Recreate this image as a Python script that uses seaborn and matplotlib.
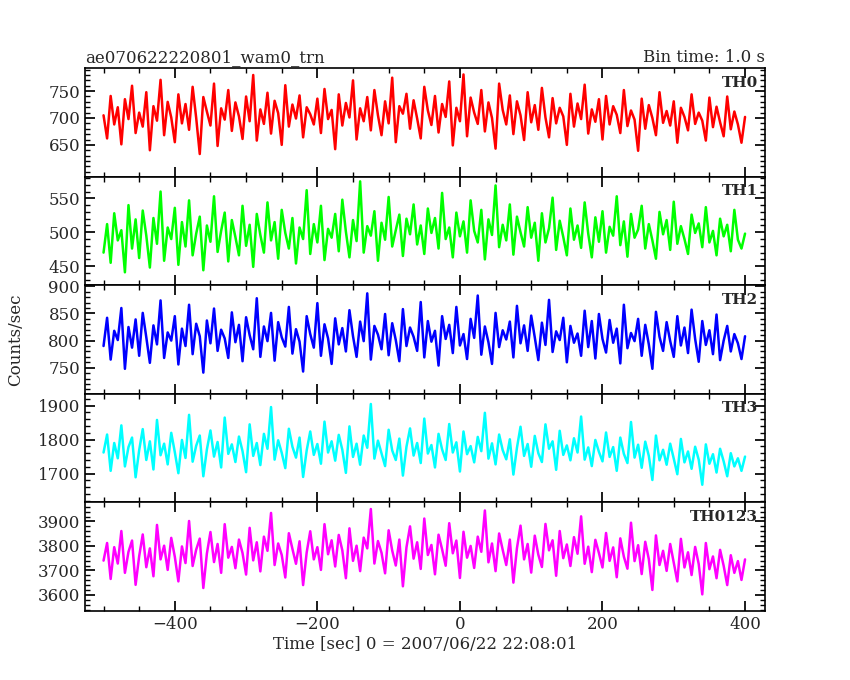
import numpy as np
import matplotlib
matplotlib.use("Agg")
import matplotlib.pyplot as plt
import seaborn as sns
from matplotlib.ticker import AutoMinorLocator

sns.set_theme(style="white")
plt.rcParams['font.family'] = ['DejaVu Serif']

time = list(range(-500, 401, 5))

th0 = [705,662,741,688,720,651,735,698,760,672,710,684,748,640,722,695,771,668,730,701,
       655,744,690,726,678,758,700,633,739,712,686,764,648,718,697,752,676,729,703,661,
       740,694,780,658,716,689,747,671,732,709,650,761,684,725,699,742,664,720,707,688,
       736,672,754,698,715,642,744,686,728,701,770,660,718,694,739,677,752,705,668,731,
       690,775,655,722,708,745,680,733,699,662,758,714,687,741,673,726,702,768,649,719,
       694,781,666,738,710,689,752,675,729,700,643,764,715,688,742,670,731,705,659,748,
       692,724,678,756,701,664,737,690,719,703,650,745,684,727,698,762,671,716,693,735,
       660,741,688,722,706,672,752,685,714,697,639,736,680,724,700,668,748,691,713,686,
       731,654,719,702,677,744,689,710,695,658,738,683,721,692,666,740,679,712,688,654,702]
th1 = [470,512,455,528,488,503,441,540,476,519,462,532,495,448,521,483,560,458,507,490,
       536,452,515,479,547,466,498,523,444,510,486,553,471,502,529,457,518,493,466,539,
       480,511,449,527,496,470,544,488,515,461,533,499,476,521,454,507,490,562,468,512,
       485,539,459,505,492,527,472,548,501,463,518,487,575,470,509,495,531,458,514,489,
       552,479,503,526,465,520,497,541,482,510,468,535,499,521,476,558,490,507,463,529,
       494,516,470,547,502,485,533,460,519,496,569,478,511,488,541,467,523,500,479,537,
       492,514,458,528,485,506,551,474,517,493,466,535,489,510,477,544,498,463,522,486,
       531,470,508,495,553,481,516,464,527,492,504,539,476,512,488,461,530,497,518,474,
       545,483,509,490,468,526,499,513,478,537,485,502,466,520,494,511,472,533,489,476,498]
th2 = [790,842,765,818,801,860,748,825,787,839,772,851,806,759,828,793,874,768,815,800,
       845,756,822,790,866,775,831,808,741,837,795,859,781,820,804,768,852,797,829,762,
       843,810,784,878,770,826,799,851,763,834,806,789,862,776,821,798,743,845,812,787,
       869,772,830,804,757,841,793,823,780,856,808,770,835,799,887,765,827,811,784,849,
       773,832,801,762,858,790,824,807,781,871,769,836,798,818,754,845,803,829,777,862,
       791,812,766,840,805,883,774,826,797,757,851,788,819,802,835,769,864,795,828,781,
       846,806,764,833,792,875,779,817,801,842,760,827,796,813,772,855,788,836,767,849,
       803,778,838,796,822,758,866,786,814,799,840,772,829,793,748,853,807,781,834,799,
       770,845,791,824,777,857,803,761,836,792,819,775,848,764,800,827,780,812,795,766,808]
th3 = [1762,1815,1708,1790,1745,1842,1721,1778,1806,1689,1769,1831,1740,1795,1712,1858,1754,1788,1727,1820,
       1763,1701,1799,1746,1873,1735,1782,1812,1692,1771,1827,1750,1793,1718,1865,1758,1786,1734,1809,1766,
       1704,1845,1752,1790,1725,1817,1773,1896,1741,1798,1761,1716,1832,1779,1747,1806,1690,1768,1824,1755,
       1787,1729,1853,1762,1795,1738,1814,1770,1702,1839,1749,1788,1726,1812,1776,1905,1744,1797,1760,1722,
       1829,1768,1740,1803,1694,1779,1833,1753,1790,1731,1862,1759,1784,1718,1817,1771,1740,1846,1762,1792,
       1706,1824,1757,1781,1733,1808,1766,1879,1744,1789,1727,1815,1769,1742,1801,1697,1776,1838,1752,1787,
       1720,1811,1760,1734,1845,1773,1795,1711,1826,1755,1783,1739,1804,1762,1868,1741,1777,1722,1799,1764,
       1736,1821,1749,1778,1708,1806,1758,1731,1852,1747,1785,1717,1794,1752,1681,1812,1739,1770,1726,1788,
       1744,1698,1802,1733,1765,1714,1779,1741,1667,1786,1729,1757,1703,1773,1736,1692,1760,1721,1745,1708,1750]
th0123 = [3740,3812,3665,3795,3728,3861,3690,3776,3822,3641,3758,3847,3713,3790,3676,3886,3745,3801,3702,3833,
          3756,3655,3798,3730,3902,3718,3785,3830,3628,3769,3857,3734,3808,3690,3889,3752,3796,3709,3826,3771,
          3683,3874,3741,3815,3696,3838,3780,3935,3722,3810,3763,3671,3852,3788,3727,3819,3640,3773,3860,3745,
          3795,3702,3889,3766,3823,3716,3845,3782,3668,3872,3739,3801,3697,3834,3790,3951,3728,3820,3772,3688,
          3864,3781,3720,3826,3635,3794,3880,3748,3815,3706,3912,3763,3804,3684,3846,3786,3719,3893,3770,3822,
          3669,3858,3752,3800,3710,3838,3776,3945,3733,3810,3697,3851,3784,3722,3826,3650,3791,3883,3745,3808,
          3691,3842,3764,3714,3890,3782,3823,3678,3861,3750,3806,3718,3836,3768,3921,3727,3797,3693,3825,3771,
          3712,3853,3739,3794,3672,3831,3756,3707,3895,3738,3803,3685,3817,3746,3620,3843,3722,3780,3698,3808,
          3731,3655,3829,3712,3774,3681,3796,3726,3602,3812,3705,3757,3668,3784,3719,3640,3762,3690,3738,3661,3745]

series = [("TH0", th0, "#ff0000", (591, 793), [650, 700, 750]),
          ("TH1", th1, "#00ff00", (422, 582), [450, 500, 550]),
          ("TH2", th2, "#0000ff", (702, 902), [750, 800, 850, 900]),
          ("TH3", th3, "#00ffff", (1615, 1935), [1700, 1800, 1900]),
          ("TH0123", th0123, "#ff00ff", (3534, 3978), [3600, 3700, 3800, 3900])]

fig = plt.figure(figsize=(8.5, 6.8), dpi=100)
fig.patch.set_facecolor("white")
left, right, top, bottom = 85/850, 765/850, 1-68/680, 1-611/680
h = (top - bottom) / 5
axes = []
for i, (name, vals, col, yl, yt) in enumerate(series):
    ax = fig.add_axes([left, top - (i+1)*h, right-left, h])
    sns.lineplot(x=time, y=vals, ax=ax, color=col, linewidth=1.8)
    ax.set_xlim(-526, 428)
    ax.set_ylim(*yl)
    ax.set_yticks(yt)
    ax.set_xticks([-400, -200, 0, 200, 400])
    ax.xaxis.set_minor_locator(AutoMinorLocator(4))
    ax.yaxis.set_minor_locator(AutoMinorLocator(5))
    ax.tick_params(which="both", direction="in", top=True, right=True, bottom=True, left=True,
                   labelsize=12, color="black")
    ax.tick_params(which="major", length=7)
    ax.tick_params(which="minor", length=3.5)
    for s in ax.spines.values():
        s.set_color("black"); s.set_linewidth(1.2)
    ax.set_xlabel(""); ax.set_ylabel("")
    if i < 4:
        ax.set_xticklabels([])
    ax.text(0.99, 0.93, name, transform=ax.transAxes, ha="right", va="top", fontsize=11,
            fontweight="bold", zorder=5)
    axes.append(ax)

axes[0].text(0.0, 1.02, "ae070622220801_wam0_trn", transform=axes[0].transAxes, ha="left", va="bottom", fontsize=12)
axes[0].text(1.0, 1.02, "Bin time: 1.0 s", transform=axes[0].transAxes, ha="right", va="bottom", fontsize=12)
axes[-1].set_xlabel("Time [sec] 0 = 2007/06/22 22:08:01", fontsize=12, labelpad=2)
fig.text(0.018, (top+bottom)/2, "Counts/sec", rotation=90, va="center", ha="center", fontsize=12)
fig.savefig("out.png", dpi=100)
